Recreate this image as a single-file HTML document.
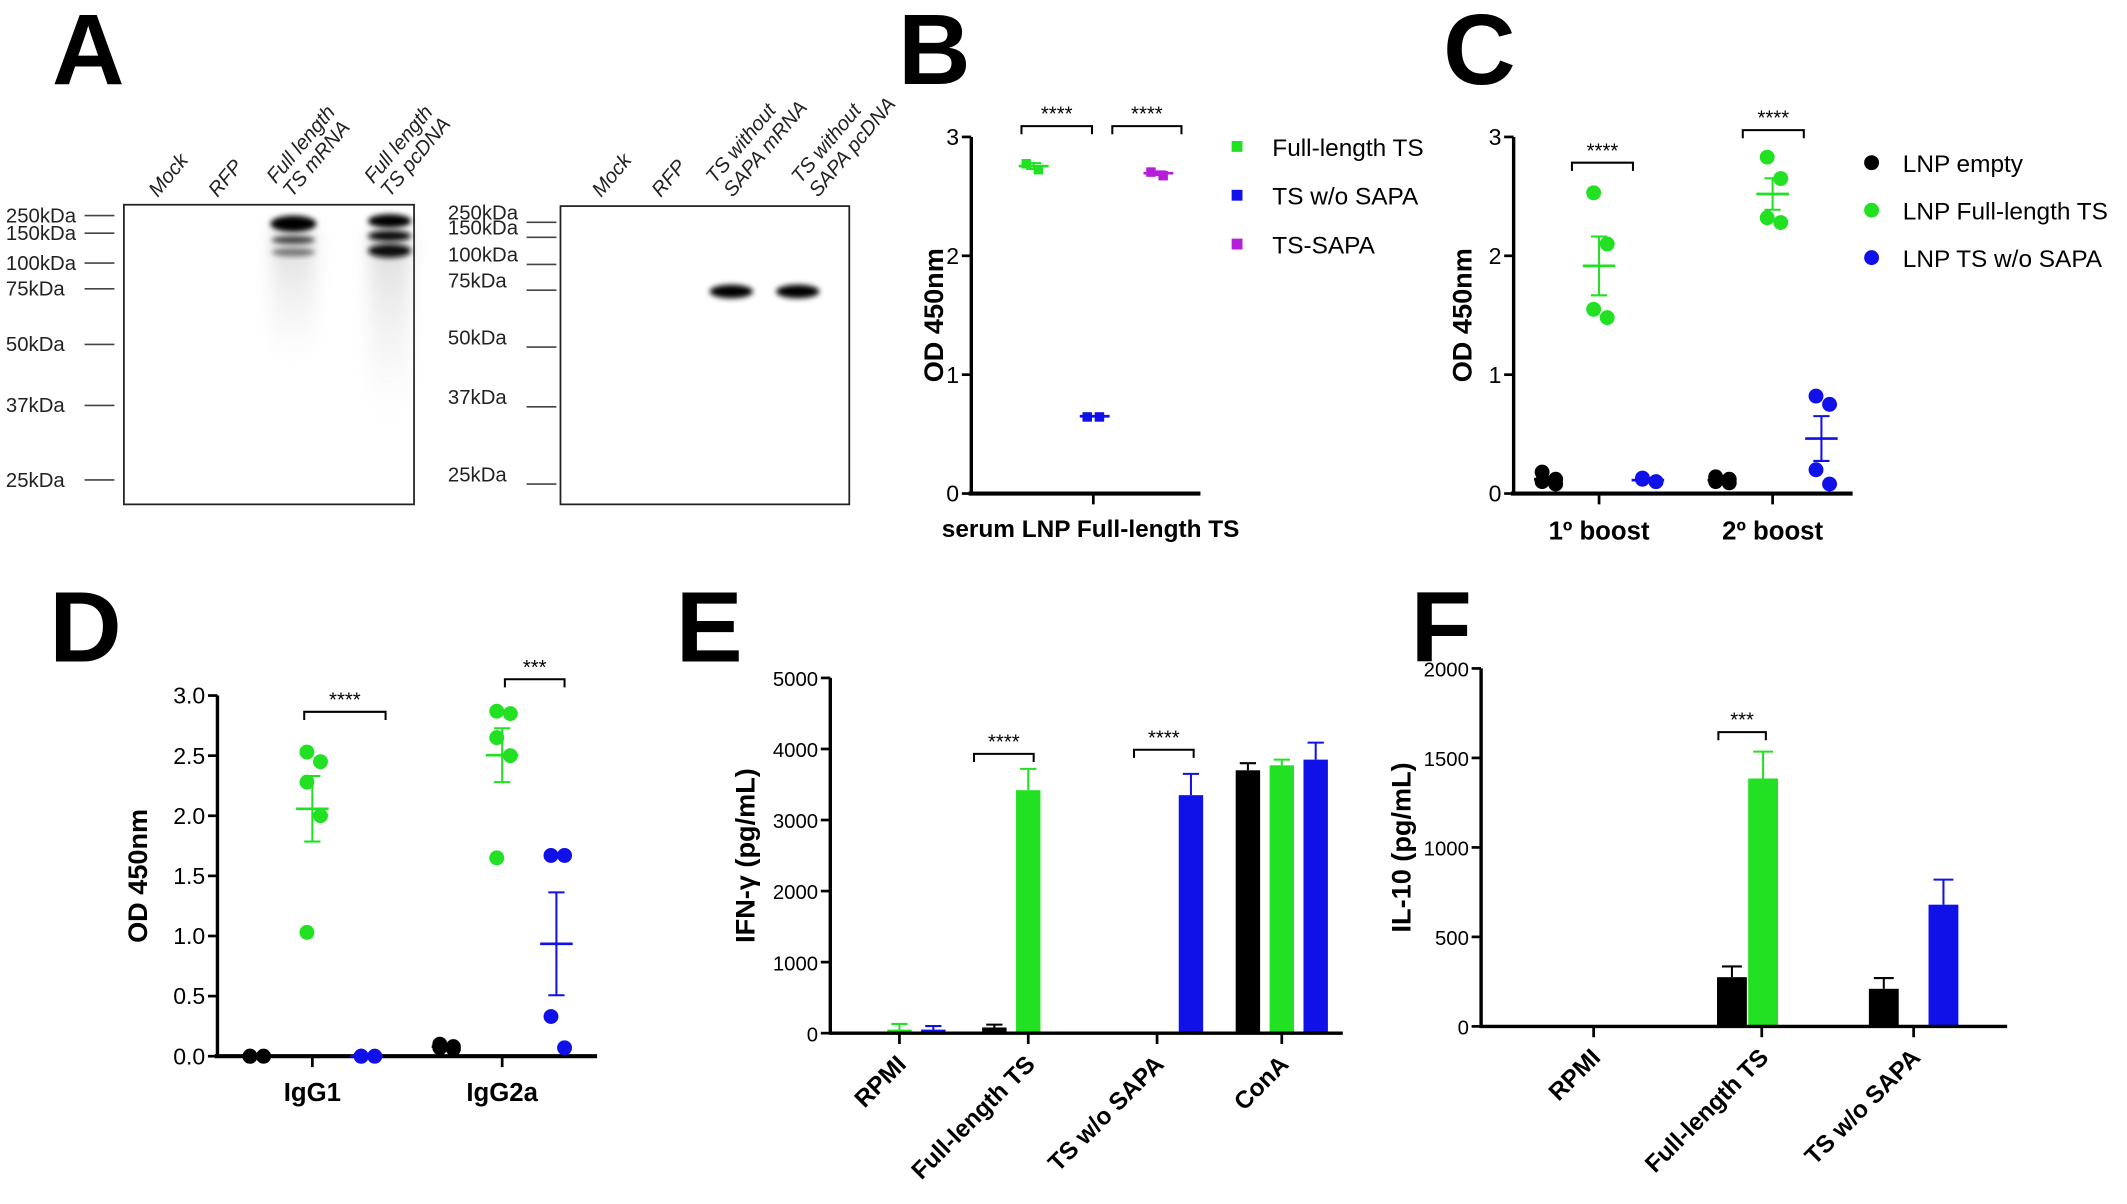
<!DOCTYPE html>
<html><head><meta charset="utf-8"><style>
html,body{margin:0;padding:0;background:#fff}
svg{display:block}
text{font-family:"Liberation Sans",Arial,sans-serif}
</style></head><body>
<svg id="fig" width="2127" height="1204" viewBox="0 0 1568 888" xmlns="http://www.w3.org/2000/svg">
<defs>
<filter id="blur2" x="-50%" y="-50%" width="200%" height="200%"><feGaussianBlur stdDeviation="2"/></filter>
<filter id="blur6" x="-50%" y="-50%" width="200%" height="200%"><feGaussianBlur stdDeviation="6"/></filter>
<linearGradient id="smear" x1="0" y1="0" x2="0" y2="1"><stop offset="0" stop-color="#aaa" stop-opacity="0.45"/><stop offset="1" stop-color="#ddd" stop-opacity="0"/></linearGradient>
</defs>
<g id="panelA">
<text x="38" y="62" font-size="74" font-weight="bold">A</text>
<rect x="91" y="151" width="214" height="221" fill="#fff" stroke="#222" stroke-width="1.3"/>
<rect x="413" y="152" width="213" height="220" fill="#fff" stroke="#222" stroke-width="1.3"/>
<g>
<rect x="200" y="170" width="32" height="100" fill="url(#smear)" filter="url(#blur6)"/>
<rect x="272" y="170" width="30" height="140" fill="url(#smear)" filter="url(#blur6)"/>
<ellipse cx="216" cy="165" rx="17" ry="6" fill="#000" filter="url(#blur2)"/>
<ellipse cx="216" cy="177" rx="16" ry="3" fill="#444" filter="url(#blur2)"/>
<ellipse cx="216" cy="186" rx="16" ry="3" fill="#777" filter="url(#blur2)"/>
<ellipse cx="287" cy="163" rx="16" ry="5" fill="#000" filter="url(#blur2)"/>
<ellipse cx="287" cy="174" rx="16" ry="4" fill="#111" filter="url(#blur2)"/>
<ellipse cx="287" cy="185" rx="16" ry="5" fill="#111" filter="url(#blur2)"/>
</g>
<g>
<ellipse cx="539" cy="215" rx="16" ry="5" fill="#000" filter="url(#blur2)"/>
<ellipse cx="588" cy="215" rx="16" ry="5" fill="#000" filter="url(#blur2)"/>
</g>
<g id="markersA" font-size="15" fill="#222"></g>
<g font-size="15" font-style="italic" fill="#222">
<text transform="translate(116,146) rotate(-50)">Mock</text>
<text transform="translate(160,146) rotate(-50)">RFP</text>
<text transform="translate(203,136) rotate(-50)">Full length</text>
<text transform="translate(215,146) rotate(-50)">TS mRNA</text>
<text transform="translate(275,136) rotate(-50)">Full length</text>
<text transform="translate(287,146) rotate(-50)">TS pcDNA</text>
<text transform="translate(443,146) rotate(-50)">Mock</text>
<text transform="translate(487,146) rotate(-50)">RFP</text>
<text transform="translate(527,136) rotate(-50)">TS without</text>
<text transform="translate(540,146) rotate(-50)">SAPA mRNA</text>
<text transform="translate(590,136) rotate(-50)">TS without</text>
<text transform="translate(603,146) rotate(-50)">SAPA pcDNA</text>
</g>
</g>
<g id="charts"></g>
</svg>
<script>
// ---------- DATA ----------
const blotMarkers = ["250","150","100","75","50","37","25"];
const blotLeftY = [159,172,194,213,254,299,354];
const blotRightY = [164,175,195,214,256,300,357];

const bLegend = ["Full-length TS","TS w/o SAPA","TS-SAPA"];
const bValues = [[2.78,2.73],[0.65,0.65],[2.71,2.68]];
const bTicks = [0,1,2,3];

const cCategories = ["1º boost","2º boost"];
const cLegend = ["LNP empty","LNP Full-length TS","LNP TS w/o SAPA"];
const cEmpty = [[0.18,0.12,0.1,0.08],[0.14,0.12,0.1,0.09]];
const cFull = [[2.53,2.1,1.55,1.48],[2.83,2.65,2.32,2.28]];
const cWo = [[0.13,0.1,0.12,0.1],[0.82,0.75,0.2,0.08]];
const cTicks = [0,1,2,3];

const dCategories = ["IgG1","IgG2a"];
const dEmpty = [[0,0,0,0,0],[0.1,0.08,0.07,0.06,0.09]];
const dFull = [[2.53,2.45,2.28,2.0,1.03],[2.87,2.85,2.65,2.5,1.65]];
const dWo = [[0,0,0,0,0],[1.67,1.67,0.33,0.07]];
const dTicks = ["0.0","0.5","1.0","1.5","2.0","2.5","3.0"];

const eCategories = ["RPMI","Full-length TS","TS w/o SAPA","ConA"];
const eEmpty = [0,80,0,3700];
const eEmptyErr = [0,40,0,100];
const eFull = [50,3420,0,3770];
const eFullErr = [80,300,0,80];
const eWo = [50,0,3350,3850];
const eWoErr = [50,0,300,240];
const eTicks = [0,1000,2000,3000,4000,5000];

const fCategories = ["RPMI","Full-length TS","TS w/o SAPA"];
const fEmpty = [0,275,210];
const fEmptyErr = [0,60,60];
const fFull = [0,1385,0];
const fFullErr = [0,150,0];
const fWo = [0,0,680];
const fWoErr = [0,0,140];
const fTicks = [0,500,1000,1500,2000];

// ---------- helpers ----------
const NS="http://www.w3.org/2000/svg";
const root=document.getElementById('charts');
function el(tag,attrs,parent,txt){const e=document.createElementNS(NS,tag);for(const k in attrs)e.setAttribute(k,attrs[k]);if(txt!==undefined)e.textContent=txt;(parent||root).appendChild(e);return e;}
const GREEN="#22e022",BLUE="#1010e8",MAG="#b41ed8",BLK="#000";
function mean(a){return a.reduce((s,v)=>s+v,0)/a.length;}
function sem(a){const m=mean(a);return Math.sqrt(a.reduce((s,v)=>s+(v-m)*(v-m),0)/(a.length-1))/Math.sqrt(a.length);}

// blot markers
const mA=document.getElementById('markersA');
blotMarkers.forEach((m,i)=>{
  const t1=el('text',{x:4,y:blotLeftY[i]+5},mA,m+"kDa");
  
  
  el('line',{x1:62,x2:84,y1:blotLeftY[i],y2:blotLeftY[i],stroke:"#444","stroke-width":1.2},mA);
  const t2=el('text',{x:330,y:blotRightY[i]-2,"font-family":"Liberation Serif"},mA,m+"kDa");
  
  
  el('line',{x1:388,x2:410,y1:blotRightY[i],y2:blotRightY[i],stroke:"#444","stroke-width":1.2},mA);
});

function letter(t,x,y){const e=el('text',{x:x,y:y,"font-size":74,"font-weight":"bold"},root,t);}
function yaxis(g,x,y0,y1,lo,hi,ticks,labels,fs,title,tx,name){
  const sy=v=>y0-(v-lo)/(hi-lo)*(y0-y1);
  el('line',{x1:x,x2:x,y1:y0+1,y2:y1,stroke:"#000","stroke-width":2.5},g);
  ticks.forEach((v,i)=>{el('line',{x1:x-7,x2:x,y1:sy(v),y2:sy(v),stroke:"#000","stroke-width":2},g);
    const t=el('text',{x:x-9,y:sy(v)+6,"text-anchor":"end","font-size":fs},g,labels[i]);
    });
  const tt=el('text',{transform:`translate(${tx},${(y0+y1)/2}) rotate(-90)`,"text-anchor":"middle","font-size":20,"font-weight":"bold"},g,title);
  
  return sy;
}
function sig(g,x1,x2,y,stars,name){
  el('path',{d:`M${x1},${y+6}V${y}H${x2}V${y+6}`,stroke:"#000",fill:"none","stroke-width":1.5},g);
  const t=el('text',{x:(x1+x2)/2,y:y-4,"text-anchor":"middle","font-size":15},g,stars);
  
}
function errbar(g,x,m,s,sy,col,w){
  el('line',{x1:x-w,x2:x+w,y1:sy(m),y2:sy(m),stroke:col,"stroke-width":2},g);
  el('line',{x1:x,x2:x,y1:sy(m-s),y2:sy(m+s),stroke:col,"stroke-width":1.5},g);
  el('line',{x1:x-w/2,x2:x+w/2,y1:sy(m-s),y2:sy(m-s),stroke:col,"stroke-width":1.5},g);
  el('line',{x1:x-w/2,x2:x+w/2,y1:sy(m+s),y2:sy(m+s),stroke:col,"stroke-width":1.5},g);
}
function dots(g,x,vals,sy,col,r,name){
  vals.forEach((v,i)=>{const off=(i%2?6:-4);
    const c=el('circle',{cx:x+off,cy:sy(v),r:r,fill:col},g);
    });
}

// ---------- B ----------
letter("B",662,62);
{const g=el('g',{});
 const sy=yaxis(g,716,364,101,0,3,bTicks,bTicks.map(String),17,"OD 450nm",695,'panel-b');
 el('line',{x1:714,x2:885,y1:364,y2:364,stroke:"#000","stroke-width":3},g);
 el('line',{x1:806,x2:806,y1:364,y2:372,stroke:"#000","stroke-width":2},g);
 const xl=el('text',{x:804,y:396,"text-anchor":"middle","font-size":18,"font-weight":"bold"},g,"serum LNP Full-length TS");
 
 const bx=[762,807,854], cols=[GREEN,BLUE,MAG];
 bValues.forEach((vals,k)=>{
   vals.forEach((v,i)=>{const r=el('rect',{x:bx[k]-9+i*9,y:sy(v)-3,width:7,height:7,fill:cols[k]},g);
     });
   errbar(g,bx[k],mean(vals),sem(vals),sy,cols[k],11);
 });
 sig(g,753,805,93,"****",'panel-b-sig-1');sig(g,820,871,93,"****",'panel-b-sig-2');
 bLegend.forEach((t,i)=>{el('rect',{x:908,y:104+i*36,width:8,height:8,fill:cols[i]},g);
   const tx=el('text',{x:938,y:115+i*36,"font-size":18},g,t);});
}

// ---------- C ----------
letter("C",1064,62);
{const g=el('g',{});
 const sy=yaxis(g,1116,364,101,0,3,cTicks,cTicks.map(String),17,"OD 450nm",1085,'panel-c');
 el('line',{x1:1114,x2:1366,y1:364,y2:364,stroke:"#000","stroke-width":3},g);
 const cx=[1179,1307];
 cCategories.forEach((c,i)=>{el('line',{x1:cx[i],x2:cx[i],y1:364,y2:372,stroke:"#000","stroke-width":2},g);
   const t=el('text',{x:cx[i],y:398,"text-anchor":"middle","font-size":19,"font-weight":"bold"},g,c);
   dots(g,cx[i]-38,cEmpty[i],sy,BLK,5.5,'panel-c-empty-'+i);errbar(g,cx[i]-38,mean(cEmpty[i]),sem(cEmpty[i]),sy,BLK,10);
   dots(g,cx[i],cFull[i],sy,GREEN,5.5,'panel-c-full-'+i);errbar(g,cx[i],mean(cFull[i]),sem(cFull[i]),sy,GREEN,12);
   dots(g,cx[i]+36,cWo[i],sy,BLUE,5.5,'panel-c-wo-'+i);errbar(g,cx[i]+36,mean(cWo[i]),sem(cWo[i]),sy,BLUE,12);
 });
 sig(g,1159,1204,120,"****",'panel-c-sig-1');sig(g,1285,1330,96,"****",'panel-c-sig-2');
 const cols=[BLK,GREEN,BLUE];
 cLegend.forEach((t,i)=>{el('circle',{cx:1380,cy:120+i*35,r:5.5,fill:cols[i]},g);
   const tx=el('text',{x:1403,y:127+i*35,"font-size":18},g,t);});
}

// ---------- D ----------
letter("D",36,488);
{const g=el('g',{});
 const sy=yaxis(g,160,779,513,0,3,dTicks.map(Number),dTicks,17,"OD 450nm",108,'panel-d');
 el('line',{x1:158,x2:440,y1:779,y2:779,stroke:"#000","stroke-width":3},g);
 const cx=[230,370];
 dCategories.forEach((c,i)=>{el('line',{x1:cx[i],x2:cx[i],y1:779,y2:787,stroke:"#000","stroke-width":2},g);
   const t=el('text',{x:cx[i],y:812,"text-anchor":"middle","font-size":19,"font-weight":"bold"},g,c);
   dots(g,cx[i]-42,dEmpty[i],sy,BLK,5.5,'panel-d-empty-'+i);errbar(g,cx[i]-42,mean(dEmpty[i]),sem(dEmpty[i]),sy,BLK,10);
   dots(g,cx[i],dFull[i],sy,GREEN,5.5,'panel-d-full-'+i);errbar(g,cx[i],mean(dFull[i]),sem(dFull[i]),sy,GREEN,12);
   dots(g,cx[i]+40,dWo[i],sy,BLUE,5.5,'panel-d-wo-'+i);errbar(g,cx[i]+40,mean(dWo[i]),sem(dWo[i]),sy,BLUE,12);
 });
 sig(g,224,284,525,"****",'panel-d-sig-1');sig(g,372,416,501,"***",'panel-d-sig-2');
}

// ---------- bar charts ----------
function barChart(name,ax,y0,y1,hi,ticks,cx,offs,bw,series,errs,cats,title,tx,xend){
  const g=el('g',{});
  const sy=yaxis(g,ax,y0,y1,0,hi,ticks,ticks.map(String),15,title,tx,name);
  const cols=[BLK,GREEN,BLUE];
  series.forEach((s,k)=>s.forEach((v,i)=>{
    if(v<=0)return;const x=cx[i]+offs[k];
    const r=el('rect',{x:x-bw/2,y:sy(v),width:bw,height:y0-sy(v),fill:cols[k]},g);
    
    const e=errs[k][i];
    el('line',{x1:x,x2:x,y1:sy(v),y2:sy(v+e),stroke:cols[k],"stroke-width":1.5},g);
    el('line',{x1:x-bw/3,x2:x+bw/3,y1:sy(v+e),y2:sy(v+e),stroke:cols[k],"stroke-width":1.5},g);
  }));
  el('line',{x1:ax-1,x2:xend,y1:y0,y2:y0,stroke:"#000","stroke-width":2.5},g);
  cats.forEach((c,i)=>{el('line',{x1:cx[i],x2:cx[i],y1:y0,y2:y0+8,stroke:"#000","stroke-width":2},g);
    const t=el('text',{transform:`translate(${cx[i]+6},${y0+24}) rotate(-45)`,"text-anchor":"end","font-size":18,"font-weight":"bold"},g,c);
    });
  return g;
}
letter("E",498,488);
{const g=barChart('panel-e',612,762,500,5000,eTicks,[663,758,853,945],[-25,0,25],18,[eEmpty,eFull,eWo],[eEmptyErr,eFullErr,eWoErr],eCategories,"IFN-γ (pg/mL)",556,990);
 sig(g,718,762,556,"****",'panel-e-sig-1');sig(g,836,880,553,"****",'panel-e-sig-2');}
letter("F",1040,488);
{const g=barChart('panel-f',1092,757,493,2000,fTicks,[1175,1299,1411],[-22,1,22],22,[fEmpty,fFull,fWo],[fEmptyErr,fFullErr,fWoErr],fCategories,"IL-10 (pg/mL)",1040,1480);
 sig(g,1267,1302,540,"***",'panel-f-sig-1');}
</script>
</body></html>
